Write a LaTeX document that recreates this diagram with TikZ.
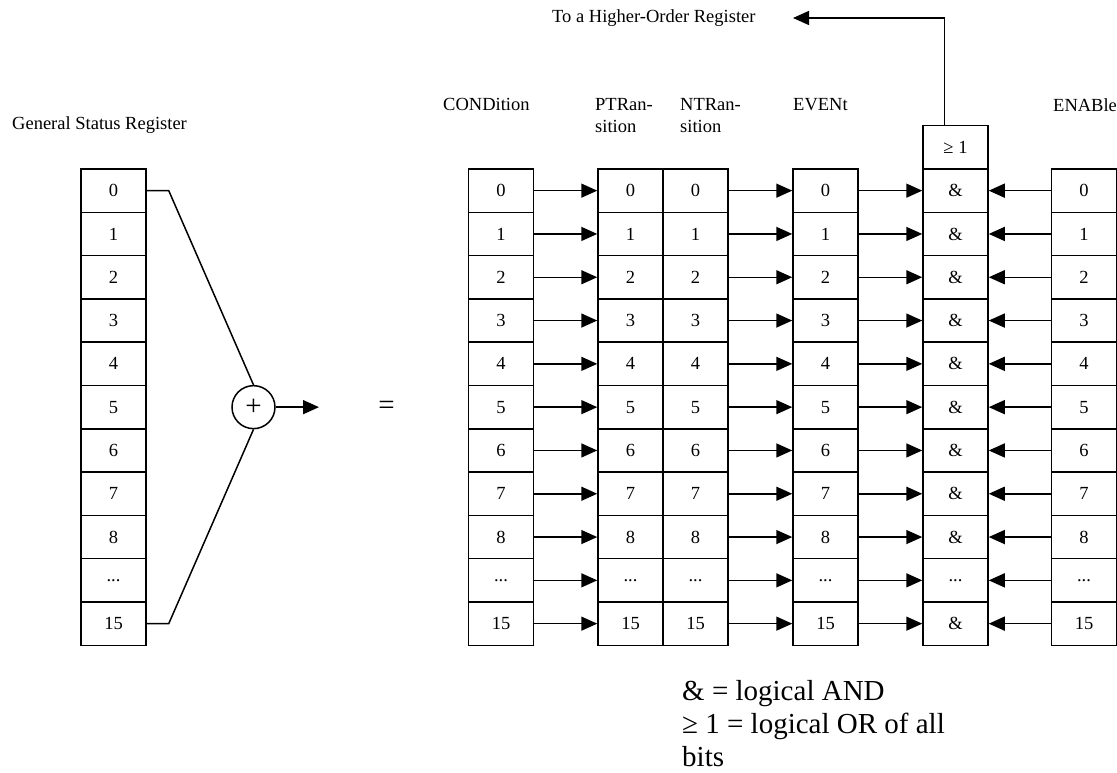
\documentclass[tikz,border=0pt]{standalone}
\usepackage{fontspec}
\setmainfont{Liberation Serif}
\usetikzlibrary{arrows.meta}
\newcommand{\bitdots}{...}

\begin{document}
\begin{tikzpicture}[x=1pt, y=-1pt, font=\fontsize{18.5}{22}\selectfont,
        bit/.style={draw, line width=1.5pt, minimum width=65pt, minimum height=43.3pt, inner sep=0pt},
        head/.style={anchor=north west, inner sep=0pt, align=left},
        big/.style={font=\fontsize{29}{33}\selectfont},
        link/.style={line width=1.5pt, -{Triangle[length=16pt, width=14pt]}},
        fan/.style={line width=1.5pt}]
      \useasboundingbox (0,0) rectangle (1117,773);
      % column headings
      \node[head] (gsrhead)  at (12,116.5) {General Status Register};
      \node[head] (condhead) at (443,98)   {CONDition};
      \node[head] (ptrhead)  at (595,98)   {PTRan-\\sition};
      \node[head] (ntrhead)  at (680,98)   {NTRan-\\sition};
      \node[head] (evthead)  at (793,98)   {EVENt};
      \node[head] (enahead)  at (1053,98)  {ENABle};
      % one row per bit
      \foreach \t [count=\i from 0] in {0,1,2,3,4,5,6,7,8,\bitdots,15} {
        \node[bit] (gsr-\i)  at (113.5,190.65+43.3*\i)  {\t};
        \node[bit] (cond-\i) at (501,190.65+43.3*\i)    {\t};
        \node[bit] (ptr-\i)  at (630.5,190.65+43.3*\i)  {\t};
        \node[bit] (ntr-\i)  at (695.5,190.65+43.3*\i)  {\t};
        \node[bit] (evt-\i)  at (825.5,190.65+43.3*\i)  {\t};
        \node[bit] (and-\i)  at (955.5,190.65+43.3*\i)  {\ifnum\i=9 \bitdots\else\&\fi};
        \node[bit] (ena-\i)  at (1084,190.65+43.3*\i)   {\t};
        \draw[link] (cond-\i) -- (ptr-\i);
        \draw[link] (ntr-\i) -- (evt-\i);
        \draw[link] (evt-\i) -- (and-\i);
        \draw[link] (ena-\i) -- (and-\i);
      }
      % summary bit
      \node[circle, draw, line width=1.5pt, minimum size=43pt, inner sep=0pt, big] (sum) at (253.5,407.15) {+};
      \draw[fan] (gsr-0.east) -- ++(22,0) -- (sum.north);
      \draw[fan] (gsr-10.east) -- ++(22,0) -- (sum.south);
      \coordinate (sumtip) at (319,407.15);
      \draw[link] (sum) -- (sumtip);
      \node[big] (equals) at (386.5,408) {=};
      % OR of all enabled event bits
      \node[bit] (or) at (955.5,147.35) {≥ 1};
      \node[anchor=base west, inner sep=0pt] (hiout) at (552,23) {To a Higher-Order Register};
      \coordinate (hitip) at (793,18);
      \draw[link] ([xshift=-11pt]or.north) |- (hitip);
      % legend
      \node[head, big] (legend) at (682,680)
        {\& = logical AND\\≥ 1 = logical OR of all\\bits};
    \end{tikzpicture}
\end{document}
